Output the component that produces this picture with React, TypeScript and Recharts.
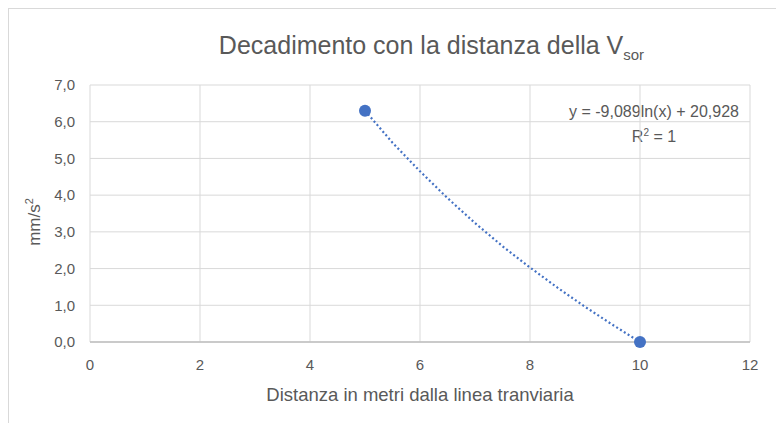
import { CartesianGrid, Scatter, ScatterChart, XAxis, YAxis, Label } from 'recharts';

// measured points
const distances = [5, 10];
const accel = [6.3, 0];

// trendline (log fit)
const trendX = [5, 5.5, 6, 6.5, 7, 7.5, 8, 8.5, 9, 9.5, 10];
const trendY = [6.3, 5.43, 4.65, 3.92, 3.24, 2.61, 2.03, 1.48, 0.96, 0.47, 0];

const xTicks = [0, 2, 4, 6, 8, 10, 12];
const yTicks = [0, 1, 2, 3, 4, 5, 6, 7];

const points = distances.map((x, i) => ({ x, y: accel[i] }));
const trend = trendX.map((x, i) => ({ x, y: trendY[i] }));

const FONT = '"Liberation Sans", Arial, sans-serif';
const GREY = '#595959';
const BLUE = '#4472C4';

const Dot = (props: any) => <circle cx={props.cx} cy={props.cy} r={6} fill={BLUE} />;

export default function App() {
  return (
    <div
      style={{
        position: 'relative',
        width: 776,
        height: 415,
        borderTop: '1px solid #d9d9d9',
        borderLeft: '1px solid #d9d9d9',
        background: '#fff',
        fontFamily: FONT,
      }}
    >
      <div
        style={{
          position: 'absolute',
          left: 0,
          width: 845,
          top: 22,
          textAlign: 'center',
          fontSize: 25,
          color: GREY,
          whiteSpace: 'nowrap',
        }}
      >
        Decadimento con la distanza della V<sub style={{ fontSize: 15 }}>sor</sub>
      </div>
      <div
        style={{
          position: 'absolute',
          left: 545,
          width: 200,
          top: 92,
          textAlign: 'center',
          fontSize: 16,
          color: GREY,
          lineHeight: '21px',
          whiteSpace: 'nowrap',
        }}
      >
        y = -9,089ln(x) + 20,928
        <br />
        R<sup style={{ fontSize: 10 }}>2</sup> = 1
      </div>
      <ScatterChart width={775} height={414} margin={{ top: 76, right: 34, left: 31, bottom: 51 }}>
        <CartesianGrid stroke="#d9d9d9" strokeWidth={1} />
        <XAxis
          type="number"
          dataKey="x"
          domain={[0, 12]}
          ticks={xTicks}
          tickLine={false}
          axisLine={{ stroke: '#bfbfbf', strokeWidth: 1.5 }}
          tick={{ fill: GREY, fontSize: 15, fontFamily: FONT }}
          tickMargin={11}
          height={30}
        >
          <Label
            value="Distanza in metri dalla linea tranviaria"
            position="insideBottom"
            offset={-29}
            style={{ fill: GREY, fontSize: 18.5, fontFamily: FONT }}
          />
        </XAxis>
        <YAxis
          type="number"
          dataKey="y"
          domain={[0, 7]}
          ticks={yTicks}
          tickFormatter={(v: number) => v.toFixed(1).replace('.', ',')}
          tickLine={false}
          axisLine={false}
          tick={{ fill: GREY, fontSize: 15, fontFamily: FONT }}
          tickMargin={9}
          width={50}
        />
        <Scatter
          data={trend}
          line={{ stroke: BLUE, strokeWidth: 2.2, strokeDasharray: '2 2.5' }}
          shape={() => <g />}
          isAnimationActive={false}
        />
        <Scatter data={points} fill={BLUE} shape={Dot} isAnimationActive={false} />
      </ScatterChart>
      <div
        style={{
          position: 'absolute',
          left: 25,
          top: 213,
          transform: 'translate(-50%, -50%) rotate(-90deg)',
          fontSize: 17,
          color: GREY,
          whiteSpace: 'nowrap',
        }}
      >
        mm/s<sup style={{ fontSize: 11 }}>2</sup>
      </div>
    </div>
  );
}
